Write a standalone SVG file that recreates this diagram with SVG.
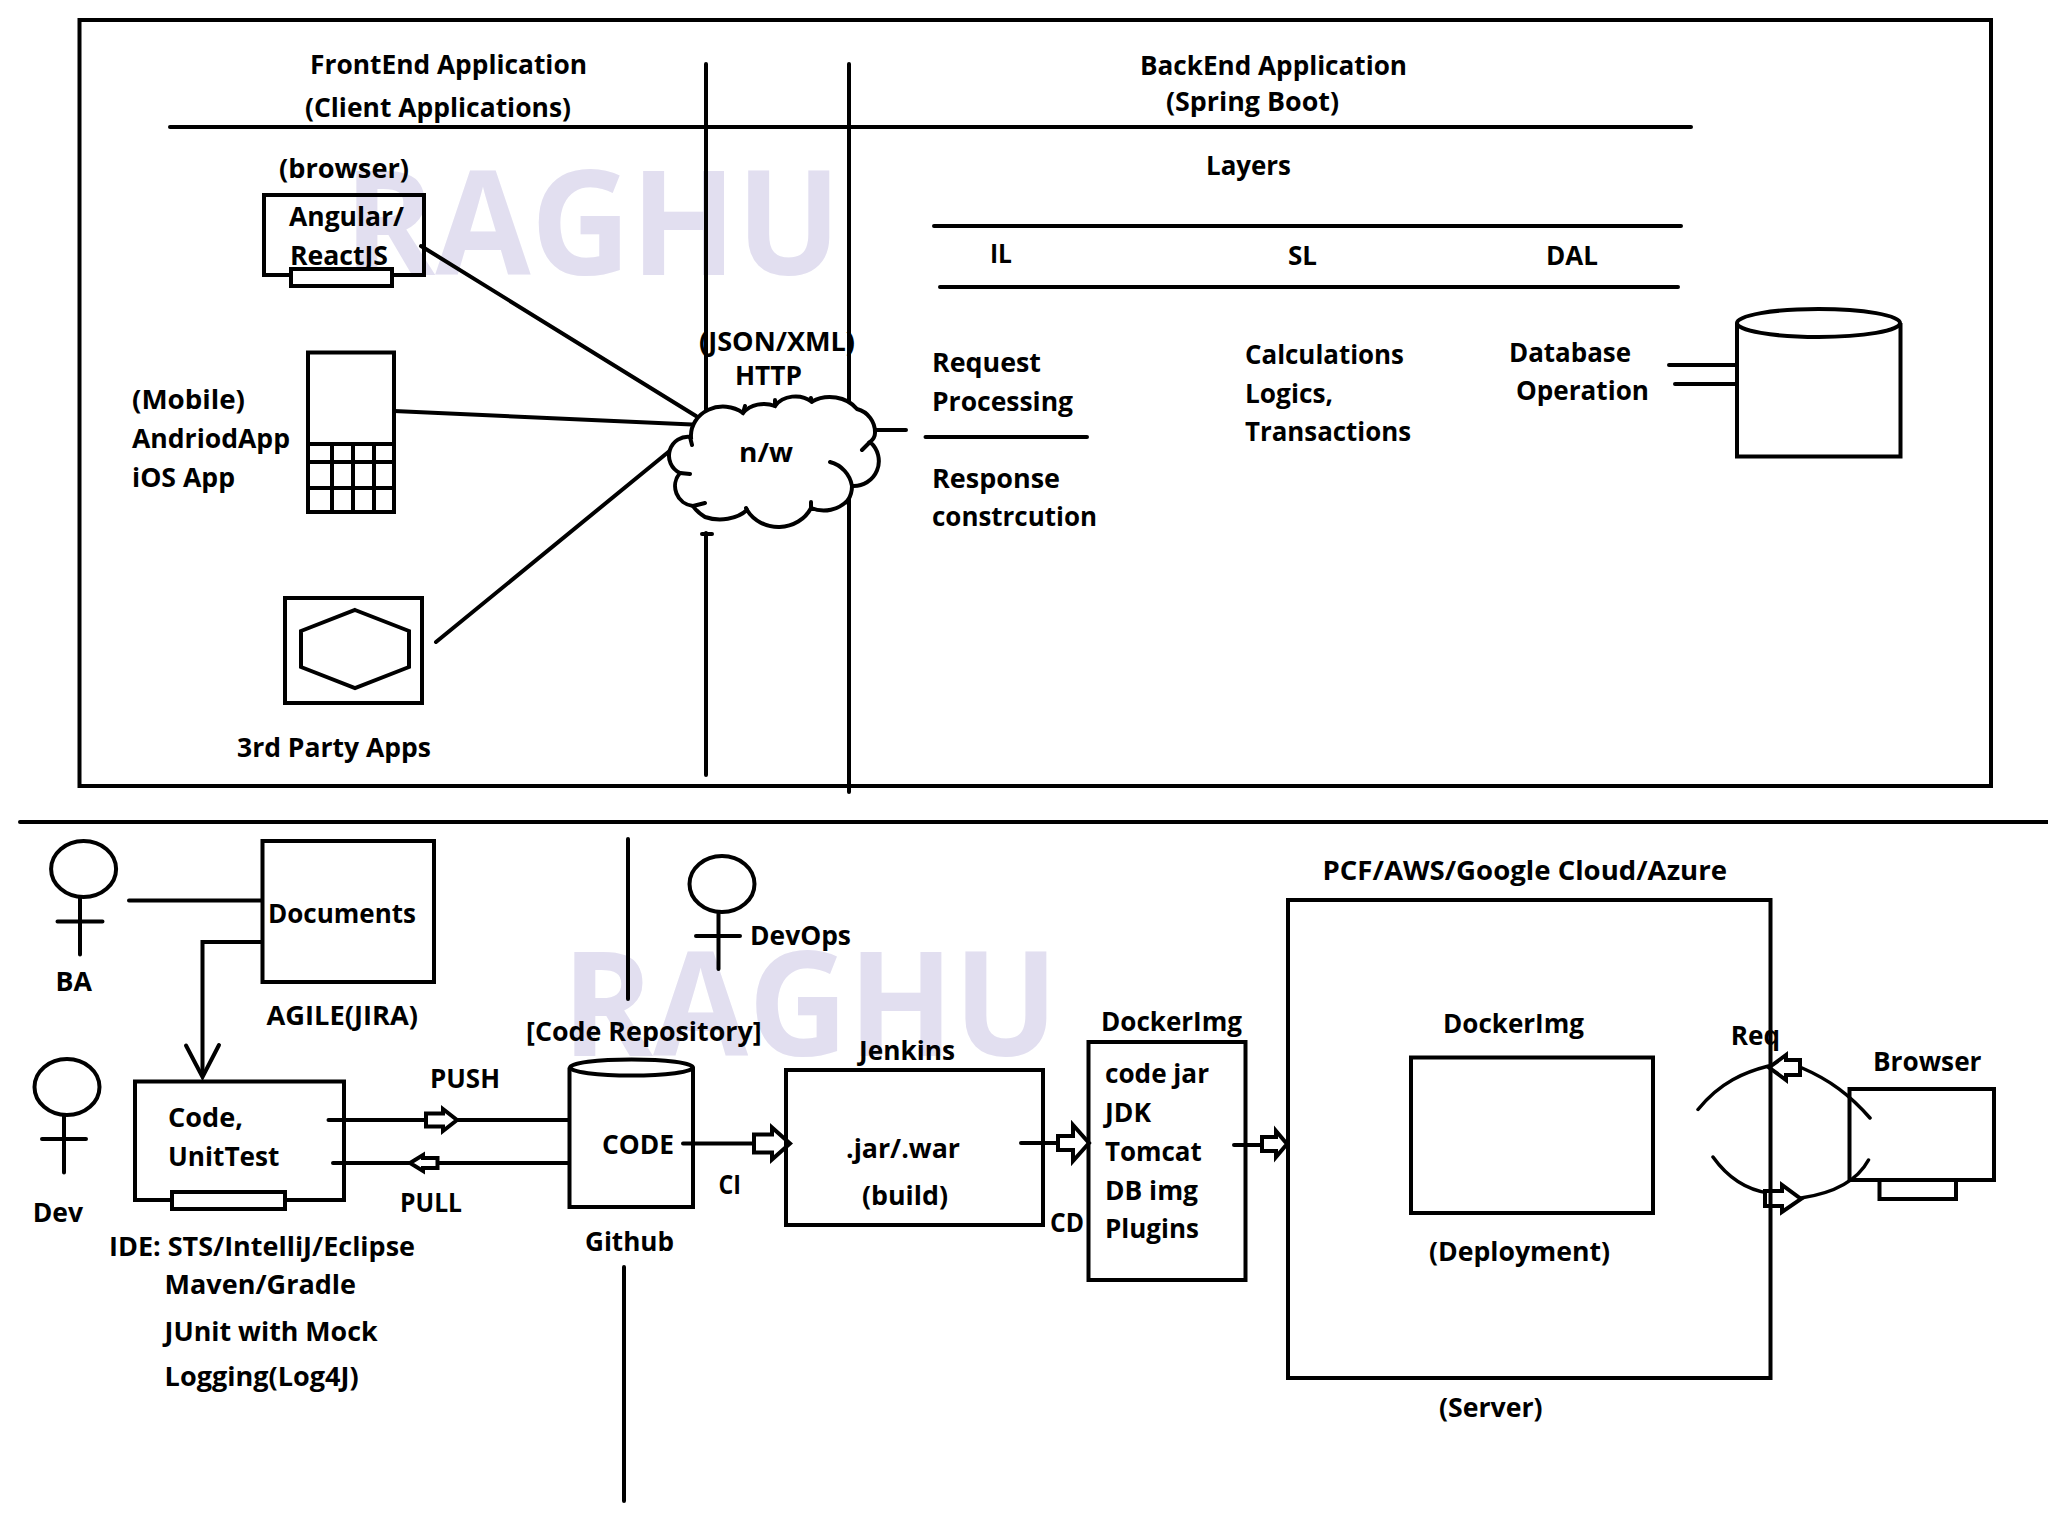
<svg xmlns="http://www.w3.org/2000/svg" width="2048" height="1517" viewBox="0 0 2048 1517">
<style>
.t{font-family:"Open Sans","Noto Sans","Liberation Sans",sans-serif;font-weight:700;font-size:27px;fill:#000}
.w{font-family:"Open Sans","Noto Sans","Liberation Sans",sans-serif;font-weight:700;font-size:145px;fill:#e2dff0}
.b{fill:none;stroke:#000;stroke-width:4}
.bf{fill:#fff;stroke:#000;stroke-width:4}
.l{fill:none;stroke:#000;stroke-width:4;stroke-linecap:round}
.thin{fill:none;stroke:#000;stroke-width:3.500;stroke-linecap:round}
</style>
<rect width="2048" height="1517" fill="#fff"/>
<g id="watermarks">
<text class="w" x="344" y="275" textLength="497" lengthAdjust="spacingAndGlyphs">RAGHU</text>
<text class="w" x="562" y="1056" textLength="496" lengthAdjust="spacingAndGlyphs">RAGHU</text>
</g>
<g id="frame"><rect class="b" x="79.500" y="20" width="1911.500" height="766" stroke-width="4"/></g>
<g id="connectors">
<path class="l" d="M170 127H1691"/>
<path class="l" d="M706 64V420M706 533V775"/>
<path class="l" d="M849 64V792"/>
<path class="l" d="M702 534H712"/>
<path class="l" d="M934 226H1681M940 287H1678M925.500 437H1087M874 430H906"/>
<path class="l" d="M421 246L696 416M394 411L692 424.500M436 642L672 449"/>
<path class="l" d="M1669 365H1737M1675 384H1740"/>
<path class="l" d="M20 822H2048"/>
<path class="l" d="M129 900.500H262M262 942H202.500V1075"/>
<path class="l" d="M186 1045.500L202.500 1077L219 1045"/>
<path class="l" d="M628 839V999M624 1267V1501"/>
<path class="l" d="M328.500 1120H568M333 1163H568M683 1143.500H756M1021 1143H1060M1234 1145H1264"/>
<path class="thin" d="M1698 1109.500C1720 1082 1745 1072 1768.500 1066M1801 1067.500C1830 1080 1850 1095 1870 1118"/>
<path class="thin" d="M1713 1157C1728 1178 1748 1190 1768.500 1193M1801 1198C1828 1194 1855 1185 1868.500 1160"/>
<polygon class="bf" stroke-width="3" points="426,1113.500 443,1113.500 443,1109 457,1120 443,1131 443,1126.500 426,1126.500"/>
<polygon class="bf" stroke-width="3" points="437.500,1158 423,1158 423,1155 410,1163 423,1171 423,1168 437.500,1168"/>
<polygon class="bf" stroke-width="3" points="754,1134.500 772,1134.500 772,1127.500 790,1143.500 772,1159.500 772,1152.500 754,1152.500"/>
<polygon class="bf" stroke-width="3" points="1058,1136 1073,1136 1073,1125 1089,1143 1073,1161 1073,1150 1058,1150"/>
<polygon class="bf" stroke-width="3" points="1262,1137 1276,1137 1276,1131 1287,1144 1276,1157 1276,1151 1262,1151"/>
<polygon class="bf" stroke-width="3" points="1800,1060 1786,1060 1786,1055 1769,1067.500 1786,1080 1786,1075 1800,1075"/>
<polygon class="bf" stroke-width="3" points="1765,1191 1782,1191 1782,1185 1801,1199 1782,1212 1782,1206 1765,1206"/>
</g>
<g id="frontend-title">
<text class="t" x="310" y="74" textLength="277" lengthAdjust="spacingAndGlyphs">FrontEnd Application</text>
<text class="t" x="305" y="117" textLength="266" lengthAdjust="spacingAndGlyphs">(Client Applications)</text>
</g>
<g id="backend-title">
<text class="t" x="1140" y="75" textLength="267" lengthAdjust="spacingAndGlyphs">BackEnd Application</text>
<text class="t" x="1166" y="111" textLength="173" lengthAdjust="spacingAndGlyphs">(Spring Boot)</text>
<text class="t" x="1206" y="175" textLength="85" lengthAdjust="spacingAndGlyphs">Layers</text>
</g>
<g id="browser-node">
<text class="t" x="279" y="178" textLength="130" lengthAdjust="spacingAndGlyphs">(browser)</text>
<rect class="b" x="264" y="195" width="160" height="80"/>
<text class="t" x="289" y="226" textLength="115" lengthAdjust="spacingAndGlyphs">Angular/</text>
<text class="t" x="290" y="265" textLength="98" lengthAdjust="spacingAndGlyphs">ReactJS</text>
<rect class="bf" x="291" y="269" width="101" height="17"/>
</g>
<g id="mobile-node">
<rect class="b" x="308" y="352.500" width="86" height="159.500"/>
<path class="b" d="M308 444H394M308 462H396M308 488H396M332 444V512M353 444V512M374 444V514"/>
<text class="t" x="132" y="409" textLength="113" lengthAdjust="spacingAndGlyphs">(Mobile)</text>
<text class="t" x="132" y="448" textLength="158" lengthAdjust="spacingAndGlyphs">AndriodApp</text>
<text class="t" x="132" y="487" textLength="103" lengthAdjust="spacingAndGlyphs">iOS App</text>
</g>
<g id="third-party-node">
<rect class="b" x="285" y="598" width="137" height="105"/>
<polygon class="b" points="355,610 409,631 409,667 355,688 301,667 301,631"/>
<text class="t" x="237" y="757" textLength="194" lengthAdjust="spacingAndGlyphs">3rd Party Apps</text>
</g>
<g id="network-node">
<text class="t" x="699" y="351" textLength="156" lengthAdjust="spacingAndGlyphs">(JSON/XML)</text>
<text class="t" x="735" y="385" textLength="67" lengthAdjust="spacingAndGlyphs">HTTP</text>
<path class="bf" d="M691 437A32 29 0 0 1 743 413A26 22 0 0 1 775 406A24 20 0 0 1 811.700 401.700A34 30 0 0 1 857 409A24 24 0 0 1 875 433Q875 438 870 442A25 25 0 0 1 852 486Q852 494 848 500A32 30 0 0 1 811 508A36 33 0 0 1 747 510A34 24 0 0 1 705 517Q697 512 693 506A20 20 0 0 1 680 473A19 19 0 0 1 691 437Z"/>
<path class="l" d="M830 462A30 30 0 0 1 852 486M862 450L870 442M680 473L690 474M693 506L705 503M743 413L745 406M775 406L775 400M811.700 401.700L811 398M848 500L848 503M811 508L811 502M747 510L746 508M690 437L692 445"/>
<text class="t" x="739" y="462" textLength="54" lengthAdjust="spacingAndGlyphs">n/w</text>
</g>
<g id="il-layer">
<text class="t" x="990" y="263" textLength="22" lengthAdjust="spacingAndGlyphs">IL</text>
<text class="t" x="932" y="372" textLength="109" lengthAdjust="spacingAndGlyphs">Request</text>
<text class="t" x="932" y="411" textLength="141" lengthAdjust="spacingAndGlyphs">Processing</text>
<text class="t" x="932" y="488" textLength="128" lengthAdjust="spacingAndGlyphs">Response</text>
<text class="t" x="932" y="526" textLength="165" lengthAdjust="spacingAndGlyphs">constrcution</text>
</g>
<g id="sl-layer">
<text class="t" x="1288" y="265" textLength="29" lengthAdjust="spacingAndGlyphs">SL</text>
<text class="t" x="1245" y="364" textLength="159" lengthAdjust="spacingAndGlyphs">Calculations</text>
<text class="t" x="1245" y="403" textLength="88" lengthAdjust="spacingAndGlyphs">Logics,</text>
<text class="t" x="1245" y="441" textLength="166" lengthAdjust="spacingAndGlyphs">Transactions</text>
</g>
<g id="dal-layer">
<text class="t" x="1546" y="265" textLength="52" lengthAdjust="spacingAndGlyphs">DAL</text>
<text class="t" x="1509" y="362" textLength="122" lengthAdjust="spacingAndGlyphs">Database</text>
<text class="t" x="1516" y="400" textLength="133" lengthAdjust="spacingAndGlyphs">Operation</text>
</g>
<g id="database-node">
<path class="bf" d="M1737 323V456.500H1900.500V323"/>
<ellipse class="bf" cx="1818.500" cy="323" rx="81.500" ry="14"/>
</g>
<g id="ba-actor">
<ellipse class="b" cx="83.600" cy="869" rx="32.500" ry="28"/>
<path class="l" d="M80 898V954.500M57.500 921.500H102.500"/>
<text class="t" x="55.500" y="991" textLength="36.500" lengthAdjust="spacingAndGlyphs">BA</text>
</g>
<g id="documents-node">
<rect class="b" x="262.500" y="841" width="171.500" height="141"/>
<text class="t" x="268" y="922.500" textLength="148" lengthAdjust="spacingAndGlyphs">Documents</text>
<text class="t" x="266.500" y="1025" textLength="151.500" lengthAdjust="spacingAndGlyphs">AGILE(JIRA)</text>
</g>
<g id="devops-actor">
<ellipse class="b" cx="722" cy="884" rx="32.500" ry="28"/>
<path class="l" d="M718.500 912V969M696 936H740"/>
<text class="t" x="750" y="945" textLength="101" lengthAdjust="spacingAndGlyphs">DevOps</text>
</g>
<g id="dev-actor">
<ellipse class="b" cx="67" cy="1087" rx="32.500" ry="28"/>
<path class="l" d="M64 1115V1172.500M42 1139H86"/>
<text class="t" x="32.700" y="1222" textLength="50.300" lengthAdjust="spacingAndGlyphs">Dev</text>
</g>
<g id="ide-node">
<rect class="b" x="135" y="1081.500" width="209" height="118.500"/>
<rect class="bf" x="172" y="1192" width="113" height="17"/>
<text class="t" x="168" y="1127" textLength="75" lengthAdjust="spacingAndGlyphs">Code,</text>
<text class="t" x="168" y="1166" textLength="111.500" lengthAdjust="spacingAndGlyphs">UnitTest</text>
<text class="t" x="430" y="1088" textLength="70" lengthAdjust="spacingAndGlyphs">PUSH</text>
<text class="t" x="400" y="1212" textLength="62" lengthAdjust="spacingAndGlyphs">PULL</text>
<text class="t" x="109" y="1256" textLength="306" lengthAdjust="spacingAndGlyphs">IDE: STS/IntelliJ/Eclipse</text>
<text class="t" x="164.600" y="1294" textLength="191.400" lengthAdjust="spacingAndGlyphs">Maven/Gradle</text>
<text class="t" x="164.600" y="1341" textLength="213" lengthAdjust="spacingAndGlyphs">JUnit with Mock</text>
<text class="t" x="164.600" y="1386" textLength="194" lengthAdjust="spacingAndGlyphs">Logging(Log4J)</text>
</g>
<g id="github-node">
<text class="t" x="526" y="1041" textLength="235.600" lengthAdjust="spacingAndGlyphs">[Code Repository]</text>
<path class="bf" d="M569.500 1067.500V1207H693V1067.500"/>
<ellipse class="b" cx="631.500" cy="1067.500" rx="61.500" ry="8"/>
<path class="l" d="M683 1143.500H693"/>
<text class="t" x="602" y="1154" textLength="72" lengthAdjust="spacingAndGlyphs">CODE</text>
<text class="t" x="718.500" y="1194" textLength="22.500" lengthAdjust="spacingAndGlyphs">CI</text>
<text class="t" x="585" y="1251" textLength="89" lengthAdjust="spacingAndGlyphs">Github</text>
</g>
<g id="jenkins-node">
<text class="t" x="859" y="1060" textLength="96" lengthAdjust="spacingAndGlyphs">Jenkins</text>
<rect class="b" x="786" y="1070" width="257" height="155"/>
<text class="t" x="846" y="1158" textLength="114" lengthAdjust="spacingAndGlyphs">.jar/.war</text>
<text class="t" x="862" y="1205" textLength="86" lengthAdjust="spacingAndGlyphs">(build)</text>
<text class="t" x="1050" y="1232" textLength="34" lengthAdjust="spacingAndGlyphs">CD</text>
</g>
<g id="docker-image-node">
<text class="t" x="1101" y="1031" textLength="141" lengthAdjust="spacingAndGlyphs">DockerImg</text>
<rect class="b" x="1088.500" y="1042" width="157" height="238"/>
<text class="t" x="1105" y="1083" textLength="104" lengthAdjust="spacingAndGlyphs">code jar</text>
<text class="t" x="1105" y="1122" textLength="46" lengthAdjust="spacingAndGlyphs">JDK</text>
<text class="t" x="1105" y="1161" textLength="96.700" lengthAdjust="spacingAndGlyphs">Tomcat</text>
<text class="t" x="1105" y="1200" textLength="93" lengthAdjust="spacingAndGlyphs">DB img</text>
<text class="t" x="1105" y="1238" textLength="94" lengthAdjust="spacingAndGlyphs">Plugins</text>
</g>
<g id="server-node">
<text class="t" x="1322.500" y="880" textLength="404.500" lengthAdjust="spacingAndGlyphs">PCF/AWS/Google Cloud/Azure</text>
<rect class="b" x="1288" y="900" width="482.500" height="478"/>
<text class="t" x="1443" y="1033" textLength="141" lengthAdjust="spacingAndGlyphs">DockerImg</text>
<rect class="b" x="1411" y="1057.500" width="242" height="155.500"/>
<text class="t" x="1429" y="1261" textLength="181" lengthAdjust="spacingAndGlyphs">(Deployment)</text>
<text class="t" x="1439" y="1417" textLength="103.600" lengthAdjust="spacingAndGlyphs">(Server)</text>
<text class="t" x="1730.700" y="1045" textLength="49.300" lengthAdjust="spacingAndGlyphs">Req</text>
</g>
<g id="client-browser-node">
<text class="t" x="1873" y="1071" textLength="108.500" lengthAdjust="spacingAndGlyphs">Browser</text>
<rect class="b" x="1849.500" y="1089" width="144.500" height="91"/>
<rect class="b" x="1879.500" y="1180" width="76.500" height="19"/>
</g>
</svg>
